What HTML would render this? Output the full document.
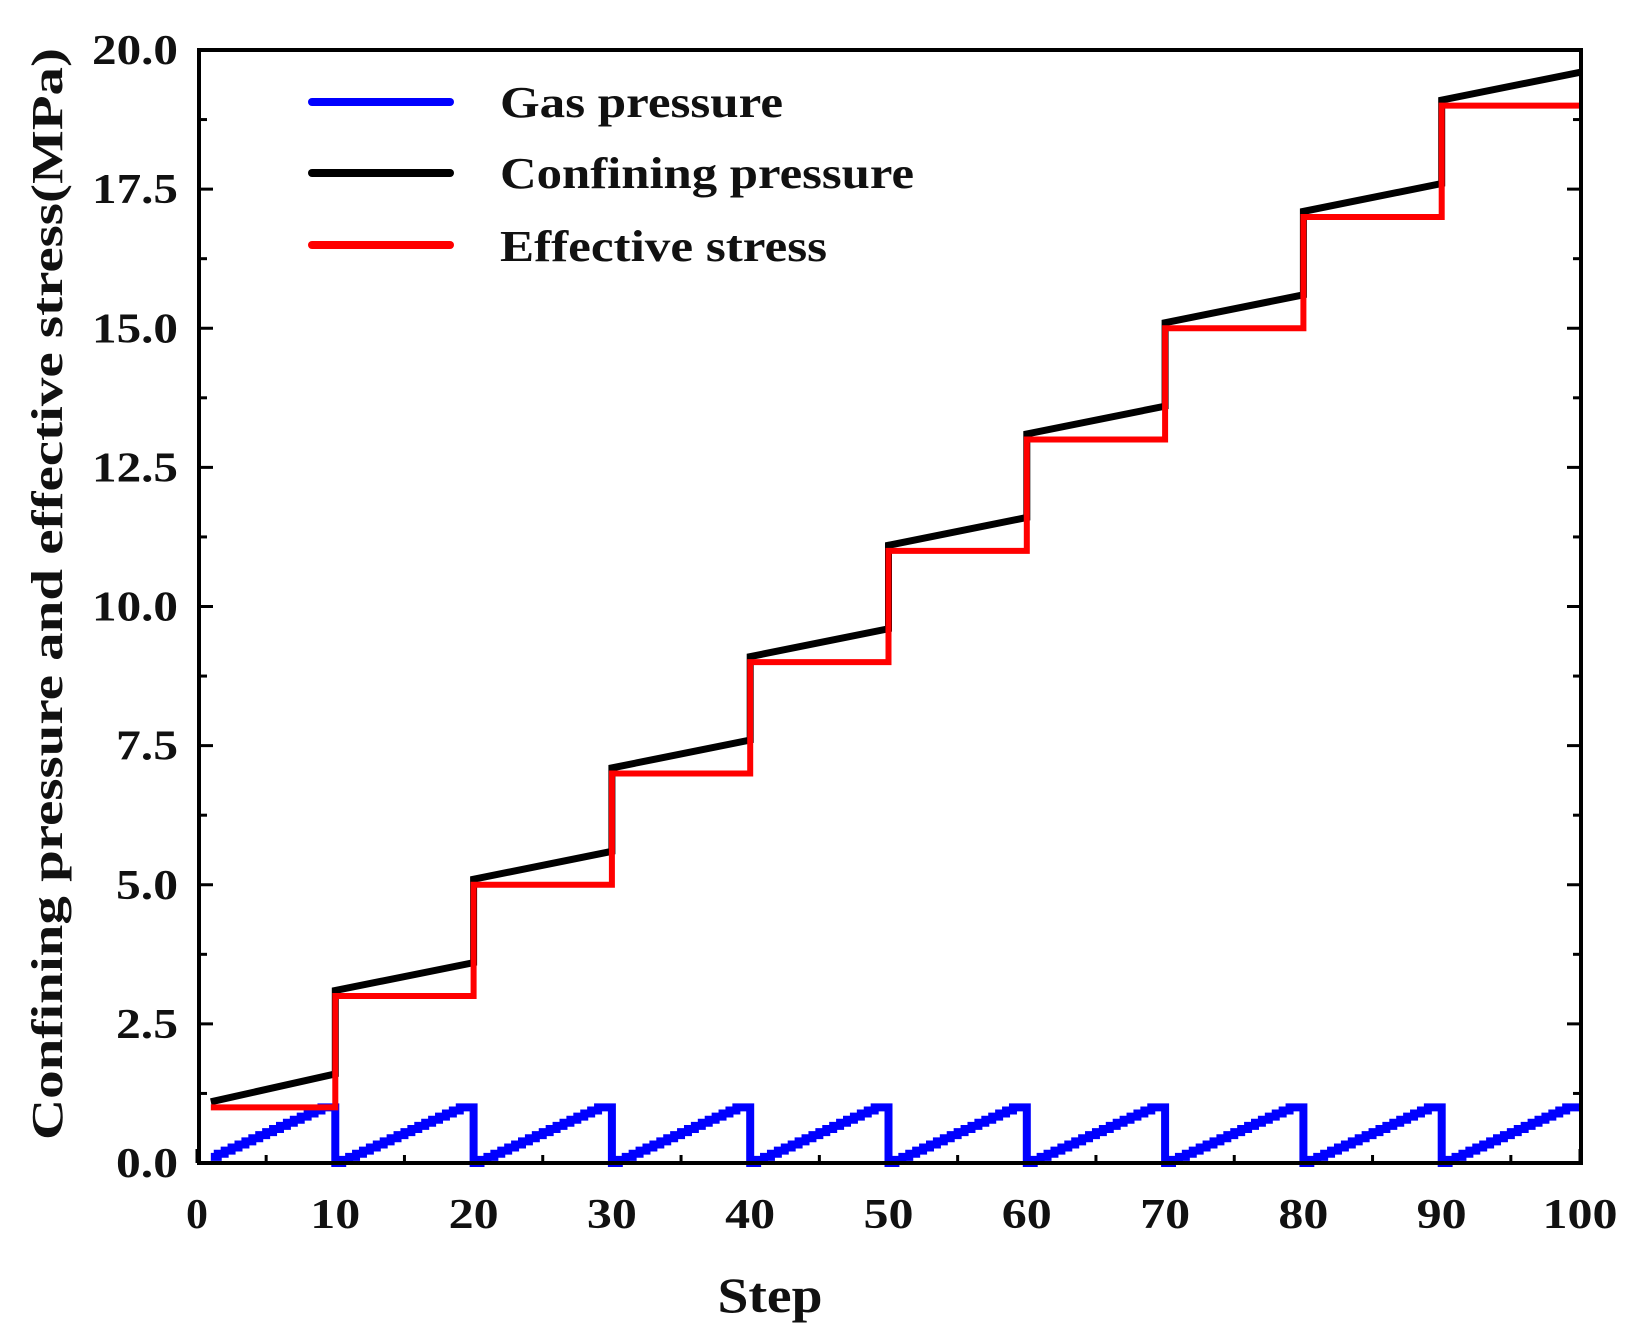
<!DOCTYPE html>
<html><head><meta charset="utf-8"><style>
html,body{margin:0;padding:0;background:#fff;}
svg{display:block;}
text{font-family:"Liberation Serif",serif;font-weight:bold;fill:#111;}
</style></head><body>
<svg id="s" width="1633" height="1335" viewBox="0 0 1633 1335" xmlns="http://www.w3.org/2000/svg">
<g id="ticks" stroke="#000" stroke-width="3"></g>
<g id="data" fill="none" stroke-linejoin="miter"></g>
<rect x="199" y="50" width="1382" height="1113" fill="none" stroke="#000" stroke-width="4"/>
<g id="labels" font-size="42"></g>
<g stroke-width="8" stroke-linecap="round">
<line x1="312" y1="102" x2="450" y2="102" stroke="#0000ff"/>
<line x1="312" y1="173" x2="450" y2="173" stroke="#000"/>
<line x1="312" y1="245" x2="450" y2="245" stroke="#ff0000"/>
</g>
<text x="500" y="117" font-size="44" textLength="283" lengthAdjust="spacingAndGlyphs">Gas pressure</text>
<text x="500" y="188" font-size="44" textLength="414" lengthAdjust="spacingAndGlyphs">Confining pressure</text>
<text x="500" y="261" font-size="44" textLength="327" lengthAdjust="spacingAndGlyphs">Effective stress</text>
<text x="770" y="1312" font-size="50" text-anchor="middle" textLength="105" lengthAdjust="spacingAndGlyphs">Step</text>
<text transform="translate(62,1140) rotate(-90)" font-size="44" textLength="1092" lengthAdjust="spacingAndGlyphs">Confining pressure and effective stress(MPa)</text>
</svg>
<script>
var X=function(s){return 197+s*13.83;},Y=function(v){return 1163-v*55.65;};
var ns="http://www.w3.org/2000/svg";
function el(p,t,a){var e=document.createElementNS(ns,t);for(var k in a)e.setAttribute(k,a[k]);p.appendChild(e);return e;}
var tk=document.getElementById('ticks'),lb=document.getElementById('labels'),dt=document.getElementById('data');
for(var s=0;s<=100;s+=5){var L=s%10==0?14:8;el(tk,'line',{x1:X(s),y1:1163,x2:X(s),y2:1163-L});}
for(var s=0;s<=100;s+=10){var w=s==0?22:(s==100?75:50);var t=el(lb,'text',{x:X(s),y:1228,'text-anchor':'middle',textLength:w,lengthAdjust:'spacingAndGlyphs'});t.textContent=s;}
for(var i=0;i<=16;i++){var v=i*1.25,L=i%2==0?14:8;el(tk,'line',{x1:199,y1:Y(v),x2:199+L,y2:Y(v)});el(tk,'line',{x1:1581,y1:Y(v),x2:1581-L,y2:Y(v)});
 if(i%2==0){var t=el(lb,'text',{x:178,y:Y(v)+14,'text-anchor':'end',textLength:(v>=10?86:62),lengthAdjust:'spacingAndGlyphs'});t.textContent=v.toFixed(1);}}
// blue
var d='';
for(var k=0;k<10;k++){var st=k==0?2:0;
 for(var i=st;i<20;i++){var lv=Math.min(1,i/18);var xa=X(10*k+i*0.5),xb=X(10*k+i*0.5+0.5);
  d+=(d==''?'M':' L')+xa+' '+Y(lv)+' L'+xb+' '+Y(lv);}
 if(k<9)d+=' L'+X(10*k+10)+' '+Y(0);}
el(dt,'path',{d:d,stroke:'#0000ff','stroke-width':8});
// black
d='';
for(var k=0;k<10;k++){var x0=k==0?1:10*k;d+=(k==0?'M':' L')+X(x0)+' '+Y(2*k+1.1)+' L'+X(10*k+10)+' '+Y(2*k+1.6);}
el(dt,'path',{d:d,stroke:'#000','stroke-width':7});
// red
d='M'+X(1)+' '+Y(1);
for(var k=0;k<10;k++){d+=' L'+X(10*k+10)+' '+Y(2*k+1);if(k<9)d+=' L'+X(10*k+10)+' '+Y(2*k+3);}
el(dt,'path',{d:d,stroke:'#ff0000','stroke-width':6});
</script>
</body></html>
